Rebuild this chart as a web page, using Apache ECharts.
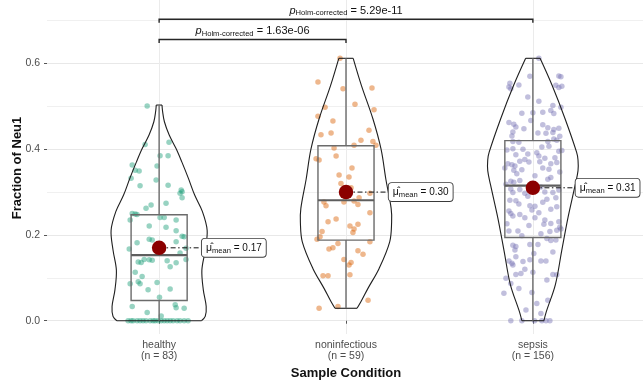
<!DOCTYPE html>
<html>
<head>
<meta charset="utf-8">
<script src="https://cdn.jsdelivr.net/npm/echarts@6/dist/echarts.min.js"></script>
<style>
  html, body { margin: 0; padding: 0; background: #ffffff; }
  #chart { width: 643px; height: 380px; }
</style>
</head>
<body>
<div id="chart"></div>
<script>
// ---- data ----
const categories = ['healthy', 'noninfectious', 'sepsis'];
const sampleSizes = [83, 59, 156];
const groupColors = ['#1B9E77', '#D95F02', '#7570B3'];

const yTicks = [0, 0.2, 0.4, 0.6];
const yMinorBreaks = [0.1, 0.3, 0.5, 0.7];

// box statistics per group
const boxLow = [0.0, 0.029, 0.0];
const boxQ1 = [0.047, 0.188, 0.194];
const boxMedian = [0.153, 0.281, 0.315];
const boxQ3 = [0.247, 0.408, 0.420];
const boxHigh = [0.501, 0.612, 0.612];

const means = [0.17, 0.30, 0.31];

// pairwise comparisons (group numbers) and Holm-corrected p-values
const comparisons = [[1, 2], [1, 3]];
const pValues = ['1.63e-06', '5.29e-11'];

// kernel density outline: [value, relative density]
const healthyDensity = [[0, 0.88], [0.01, 0.96], [0.033, 0.98], [0.072, 0.92], [0.118, 0.89], [0.165, 0.96],
  [0.211, 1.0], [0.255, 0.90], [0.293, 0.74], [0.332, 0.61], [0.371, 0.47], [0.402, 0.35], [0.433, 0.21],
  [0.464, 0.11], [0.49, 0.07], [0.503, 0.06]];
const noninfectiousDensity = [[0.029, 0.23], [0.044, 0.31], [0.076, 0.46], [0.122, 0.69], [0.184, 0.91],
  [0.23, 0.95], [0.262, 0.94], [0.33, 0.83], [0.40, 0.73], [0.471, 0.56], [0.549, 0.32], [0.612, 0.15]];
const sepsisDensity = [[0, 0.23], [0.021, 0.28], [0.085, 0.47], [0.163, 0.60], [0.24, 0.73], [0.316, 0.88],
  [0.35, 0.94], [0.375, 0.94], [0.393, 0.91], [0.471, 0.67], [0.549, 0.40], [0.612, 0.15]];

// observations: [horizontal jitter, fraction]
const healthyPoints = [
  [-0.064, 0.501], [-0.075, 0.411], [0.053, 0.416], [0.005, 0.385], [0.048, 0.385], [-0.144, 0.363],
  [-0.128, 0.351], [-0.107, 0.349], [-0.011, 0.361], [-0.150, 0.332], [-0.016, 0.328], [-0.102, 0.315],
  [0.048, 0.316], [0.118, 0.305], [0.112, 0.297], [0.123, 0.301], [0.123, 0.287], [-0.043, 0.270],
  [0.037, 0.274], [-0.144, 0.250], [-0.128, 0.249], [-0.118, 0.248], [-0.070, 0.262], [0.005, 0.241],
  [0.027, 0.241], [-0.155, 0.235], [0.091, 0.235], [-0.053, 0.221], [0.037, 0.218], [0.091, 0.210],
  [0.123, 0.197], [0.134, 0.196], [-0.053, 0.190], [-0.037, 0.188], [-0.118, 0.182], [0.091, 0.184],
  [-0.160, 0.167], [0.144, 0.169], [0.112, 0.158], [-0.112, 0.137], [-0.096, 0.136], [-0.080, 0.143],
  [-0.053, 0.142], [-0.037, 0.141], [0.043, 0.140], [0.091, 0.135], [0.144, 0.143], [0.059, 0.126],
  [-0.128, 0.113], [-0.091, 0.103], [-0.112, 0.091], [-0.102, 0.086], [-0.155, 0.086], [-0.011, 0.089],
  [0.059, 0.074], [-0.059, 0.072], [0.002, 0.055], [-0.144, 0.033], [0.086, 0.037], [0.091, 0.030],
  [0.134, 0.029], [-0.064, 0.019], [0.011, 0.011],
  [-0.166, 0], [-0.150, 0], [-0.139, 0], [-0.118, 0], [-0.102, 0], [-0.086, 0], [-0.070, 0], [-0.048, 0],
  [-0.032, 0], [-0.021, 0], [-0.005, 0], [0.011, 0], [0.027, 0], [0.043, 0], [0.059, 0], [0.075, 0],
  [0.096, 0], [0.112, 0], [0.134, 0], [0.155, 0]
];
const noninfectiousPoints = [
  [-0.032, 0.612], [-0.150, 0.557], [0.139, 0.543], [-0.016, 0.541], [0.048, 0.505], [-0.112, 0.498],
  [0.150, 0.492], [-0.150, 0.477], [-0.070, 0.466], [-0.134, 0.434], [-0.080, 0.438], [0.123, 0.444],
  [0.080, 0.421], [0.144, 0.418], [0.160, 0.409], [0.043, 0.409], [-0.064, 0.403], [-0.053, 0.384],
  [-0.160, 0.378], [-0.144, 0.375], [0.032, 0.356], [-0.037, 0.340], [0.016, 0.335], [-0.027, 0.320],
  [0.128, 0.297], [0.070, 0.287], [-0.118, 0.277], [-0.107, 0.268], [-0.011, 0.277], [0.043, 0.279],
  [0.064, 0.271], [0.128, 0.252], [-0.053, 0.237], [-0.096, 0.231], [0.021, 0.221], [0.064, 0.225],
  [0.043, 0.214], [0.037, 0.206], [-0.128, 0.208], [-0.139, 0.196], [-0.155, 0.190], [0.128, 0.184],
  [-0.043, 0.180], [-0.070, 0.170], [-0.091, 0.167], [0.064, 0.163], [0.091, 0.155], [-0.011, 0.143],
  [0.027, 0.136], [0.016, 0.130], [-0.123, 0.105], [-0.096, 0.105], [0.021, 0.107], [-0.043, 0.033],
  [0.118, 0.048], [-0.144, 0.029], [0.005, 0.302], [-0.016, 0.292], [0.027, 0.310]
];
const sepsisPoints = [
  [0.032, 0.612], [-0.016, 0.570], [0.139, 0.571], [0.150, 0.569], [-0.123, 0.554], [-0.128, 0.545],
  [-0.118, 0.541], [-0.075, 0.550], [0.123, 0.549], [0.139, 0.544], [0.155, 0.547], [-0.027, 0.522],
  [0.107, 0.502], [0.150, 0.498], [0.096, 0.490], [0.112, 0.483], [-0.059, 0.484], [0.000, 0.485],
  [0.053, 0.486], [-0.011, 0.467], [0.053, 0.457], [-0.102, 0.458], [-0.091, 0.452], [0.139, 0.449],
  [0.112, 0.446], [0.080, 0.450], [-0.107, 0.440], [-0.112, 0.431], [0.027, 0.438], [0.070, 0.437],
  [0.107, 0.439], [0.144, 0.430], [0.112, 0.424], [-0.107, 0.418], [-0.075, 0.416], [0.080, 0.418],
  [0.128, 0.421], [0.048, 0.405], [-0.107, 0.401], [-0.053, 0.400], [0.086, 0.407], [0.139, 0.395],
  [0.155, 0.397], [-0.091, 0.387], [-0.027, 0.389], [0.032, 0.384], [0.064, 0.379], [-0.134, 0.366],
  [-0.112, 0.364], [-0.096, 0.361], [-0.070, 0.372], [-0.021, 0.370], [0.037, 0.371], [0.096, 0.366],
  [0.128, 0.369], [-0.150, 0.356], [-0.102, 0.351], [-0.059, 0.352], [0.053, 0.356], [0.086, 0.353],
  [0.144, 0.347], [-0.118, 0.325], [-0.102, 0.323], [-0.070, 0.327], [0.080, 0.330],
  [-0.118, 0.307], [-0.070, 0.306], [-0.107, 0.299], [-0.043, 0.297], [0.107, 0.299], [0.123, 0.287],
  [0.064, 0.300], [-0.123, 0.281], [-0.091, 0.280], [0.053, 0.276], [-0.016, 0.268], [0.011, 0.267],
  [-0.005, 0.258], [0.096, 0.260], [-0.128, 0.256], [-0.118, 0.250], [-0.070, 0.248], [-0.043, 0.240],
  [0.011, 0.240], [0.139, 0.231], [0.059, 0.225], [0.096, 0.227], [0.128, 0.211], [0.150, 0.214],
  [-0.128, 0.209], [-0.080, 0.209], [0.091, 0.208], [0.075, 0.192], [0.096, 0.187], [0.123, 0.188],
  [-0.107, 0.176], [-0.091, 0.173], [-0.016, 0.178], [0.027, 0.178], [0.005, 0.157], [-0.091, 0.149],
  [-0.128, 0.139], [-0.112, 0.134], [-0.107, 0.130], [-0.053, 0.138], [-0.016, 0.142], [0.043, 0.139],
  [0.070, 0.139], [-0.091, 0.108], [-0.064, 0.110], [0.000, 0.113], [0.107, 0.108], [0.128, 0.107],
  [-0.144, 0.099], [-0.118, 0.087], [-0.155, 0.064], [-0.005, 0.066], [0.080, 0.048], [-0.037, 0.025],
  [-0.118, 0], [-0.059, 0], [0.048, 0], [0.070, 0], [0.091, 0], [0.043, 0.017],
  [-0.139, 0.398], [0.021, 0.392], [-0.043, 0.376], [0.118, 0.380], [-0.086, 0.343], [0.011, 0.338],
  [0.096, 0.334], [-0.144, 0.318], [0.043, 0.312], [0.139, 0.305], [-0.027, 0.290], [0.075, 0.283],
  [-0.075, 0.272], [0.128, 0.266], [0.032, 0.252], [-0.107, 0.244], [0.064, 0.235], [-0.021, 0.222],
  [0.144, 0.218], [-0.139, 0.226], [0.043, 0.203], [-0.059, 0.198], [-0.096, 0.165], [0.107, 0.160],
  [-0.043, 0.120], [0.075, 0.095], [-0.075, 0.075], [0.021, 0.040], [-0.048, 0.448], [0.032, 0.512],
  [-0.128, 0.462], [0.009, 0]
];

// ---- layout / style ----
const FONT = 'Liberation Sans, Arial, sans-serif';
const AXIS_TEXT = '#4d4d4d';
const VIOLIN_HALF = 0.257;   // x units at relative density 1
const BOX_HALF = 0.15;       // x units
const BRACKET_LEVELS = [0.656, 0.703];
const densities = [healthyDensity, noninfectiousDensity, sepsisDensity];
const pointSets = [healthyPoints, noninfectiousPoints, sepsisPoints];

const chart = echarts.init(document.getElementById('chart'), null, { renderer: 'canvas' });

const pointSeries = pointSets.map((pts, g) => ({
  type: 'scatter',
  name: categories[g],
  z: 1,
  clip: false,
  symbol: 'circle',
  symbolSize: 5.5,
  silent: true,
  itemStyle: { color: groupColors[g], opacity: 0.45 },
  data: pts.map(p => [g + 1 + p[0], p[1]])
}));

const violinSeries = {
  type: 'custom',
  z: 2,
  silent: true,
  data: categories.map((c, i) => [i + 1]),
  encode: { x: 0 },
  renderItem(params, api) {
    const g = params.dataIndex;
    const prof = densities[g];
    const cx = g + 1;
    const left = prof.map(([v, d]) => api.coord([cx - d * VIOLIN_HALF, v]));
    const right = prof.map(([v, d]) => api.coord([cx + d * VIOLIN_HALF, v]));
    const st = { stroke: '#1f1f1f', lineWidth: 1.1, fill: null };
    return {
      type: 'group',
      children: [
        { type: 'polyline', shape: { points: left, smooth: 0.35 }, style: st },
        { type: 'polyline', shape: { points: right, smooth: 0.35 }, style: st },
        { type: 'line', shape: { x1: left[0][0], y1: left[0][1], x2: right[0][0], y2: right[0][1] }, style: st },
        { type: 'line', shape: { x1: left[left.length - 1][0], y1: left[left.length - 1][1],
          x2: right[right.length - 1][0], y2: right[right.length - 1][1] }, style: st }
      ]
    };
  }
};

const boxSeries = {
  type: 'custom',
  z: 3,
  silent: true,
  data: categories.map((c, i) => [i + 1]),
  encode: { x: 0 },
  renderItem(params, api) {
    const g = params.dataIndex;
    const cx = g + 1;
    const tl = api.coord([cx - BOX_HALF, boxQ3[g]]);
    const br = api.coord([cx + BOX_HALF, boxQ1[g]]);
    const mL = api.coord([cx - BOX_HALF, boxMedian[g]]);
    const mR = api.coord([cx + BOX_HALF, boxMedian[g]]);
    const wTop = api.coord([cx, boxHigh[g]]);
    const wBot = api.coord([cx, boxLow[g]]);
    const st = { stroke: '#6b6b6b', lineWidth: 1.4, fill: null };
    return {
      type: 'group',
      children: [
        { type: 'line', shape: { x1: wTop[0], y1: wTop[1], x2: wTop[0], y2: tl[1] }, style: st },
        { type: 'line', shape: { x1: wBot[0], y1: br[1], x2: wBot[0], y2: wBot[1] }, style: st },
        { type: 'rect', shape: { x: tl[0], y: tl[1], width: br[0] - tl[0], height: br[1] - tl[1] }, style: st },
        { type: 'line', shape: { x1: mL[0], y1: mL[1], x2: mR[0], y2: mR[1] },
          style: { stroke: '#5e5e5e', lineWidth: 2.2 } }
      ]
    };
  }
};

const connectorSeries = {
  type: 'custom',
  z: 4,
  silent: true,
  data: means.map((m, i) => [i + 1, m]),
  encode: { x: 0, y: 1 },
  renderItem(params, api) {
    const p = api.coord([api.value(0), api.value(1)]);
    return {
      type: 'line',
      shape: { x1: p[0], y1: p[1], x2: p[0] + 42, y2: p[1] },
      style: { stroke: '#111', lineWidth: 1, lineDash: [5, 2.5, 1.5, 2.5] }
    };
  }
};

const meanSeries = {
  type: 'scatter',
  z: 5,
  clip: false,
  silent: true,
  symbol: 'circle',
  symbolSize: 14.5,
  itemStyle: { color: '#8B0000', opacity: 1 },
  data: means.map((m, i) => [i + 1, m]),
  label: {
    show: true,
    position: 'right',
    distance: 35.5,
    backgroundColor: '#ffffff',
    borderColor: '#3a3a3a',
    borderWidth: 0.9,
    borderRadius: 3,
    padding: [2, 4, 2, 4],
    formatter: p => '{mu|\u03bc\u0302}{sub|mean}{val| = ' + p.value[1].toFixed(2) + '}',
    rich: {
      mu: { fontFamily: FONT, fontSize: 10.5, color: '#111', lineHeight: 14 },
      sub: { fontFamily: FONT, fontSize: 7.6, color: '#111', lineHeight: 8, verticalAlign: 'bottom' },
      val: { fontFamily: FONT, fontSize: 10, color: '#111', lineHeight: 14 }
    }
  }
};

const bracketSeries = {
  type: 'custom',
  z: 4,
  silent: true,
  data: comparisons.map((c, i) => [c[0], BRACKET_LEVELS[i]]),
  encode: { x: 0, y: 1 },
  renderItem(params, api) {
    const i = params.dataIndex;
    const [a, b] = comparisons[i];
    const lvl = BRACKET_LEVELS[i];
    const p1 = api.coord([a, lvl]);
    const p2 = api.coord([b, lvl]);
    const drop = 3.5;
    return {
      type: 'group',
      children: [
        { type: 'polyline',
          shape: { points: [[p1[0], p1[1] + drop], [p1[0], p1[1]], [p2[0], p2[1]], [p2[0], p2[1] + drop]] },
          style: { stroke: '#262626', lineWidth: 1.4, fill: null } },
        { type: 'text',
          style: {
            x: (p1[0] + p2[0]) / 2, y: p1[1] - 2,
            align: 'center', verticalAlign: 'bottom',
            text: '{p|p}{s|Holm-corrected}{v| = ' + pValues[i] + '}',
            rich: {
              p: { fontFamily: FONT, fontSize: 11, fontStyle: 'italic', fill: '#111', lineHeight: 13 },
              s: { fontFamily: FONT, fontSize: 7.6, fill: '#111', lineHeight: 8, verticalAlign: 'bottom' },
              v: { fontFamily: FONT, fontSize: 11, fill: '#111', lineHeight: 13 }
            }
          } }
      ]
    };
  }
};

const option = {
  backgroundColor: '#ffffff',
  animation: false,
  grid: { left: 47, top: 0, width: 598, height: 334, outerBoundsMode: 'none', containLabel: false },
  xAxis: {
    type: 'value',
    min: 0.4,
    max: 3.6,
    axisLine: { show: false },
    axisTick: { show: true, length: 3, customValues: [1, 2, 3], lineStyle: { color: '#555', width: 1 } },
    axisLabel: {
      customValues: [1, 2, 3],
      margin: 5,
      color: AXIS_TEXT,
      fontFamily: FONT,
      fontSize: 10.5,
      lineHeight: 11.5,
      formatter: v => categories[Math.round(v) - 1] + '\n(n = ' + sampleSizes[Math.round(v) - 1] + ')'
    },
    splitLine: { show: true, lineStyle: { color: '#ebebeb', width: 1 } },
    name: 'Sample Condition',
    nameLocation: 'middle',
    nameGap: 30,
    nameTextStyle: { fontFamily: FONT, fontSize: 13, fontWeight: 'bold', color: '#111' }
  },
  yAxis: [
    {
      type: 'value',
      min: -0.031,
      max: 0.748,
      axisLine: { show: false },
      axisTick: { show: true, length: 3, customValues: yTicks, lineStyle: { color: '#555', width: 1 } },
      axisLabel: {
        customValues: yTicks,
        margin: 7,
        color: AXIS_TEXT,
        fontFamily: FONT,
        fontSize: 10.5,
        formatter: v => v.toFixed(1)
      },
      splitLine: { show: true, lineStyle: { color: '#e8e8e8', width: 1 } }
    },
    {
      type: 'value',
      min: -0.031,
      max: 0.748,
      axisLine: { show: false },
      axisTick: { show: false, customValues: yMinorBreaks },
      axisLabel: { show: false, customValues: yMinorBreaks },
      splitLine: { show: true, lineStyle: { color: '#f0f0f0', width: 1 } }
    }
  ],
  graphic: [{
    type: 'text',
    x: 17, y: 168,
    rotation: Math.PI / 2,
    style: {
      text: 'Fraction of Neu1',
      fontFamily: FONT, fontSize: 13, fontWeight: 'bold', fill: '#111',
      align: 'center', verticalAlign: 'middle'
    }
  }],
  series: [...pointSeries, violinSeries, boxSeries, connectorSeries, bracketSeries, meanSeries]
};

chart.setOption(option);
</script>
</body>
</html>
